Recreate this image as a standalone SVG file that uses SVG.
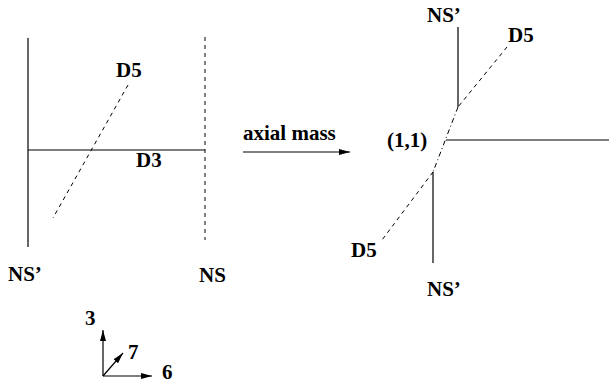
<svg xmlns="http://www.w3.org/2000/svg" width="609" height="383" viewBox="0 0 609 383">
<style>
text{font-family:'Liberation Serif','Times New Roman',serif;font-weight:700;font-size:21px;fill:#000}
.s{stroke:#000;stroke-width:1.2;fill:none}
.d{stroke:#000;stroke-width:1;fill:none;stroke-dasharray:4 4}
.dd{stroke:#000;stroke-width:1;fill:none;stroke-dasharray:5 3 1 3}
</style>
<defs>
<marker id="ah" markerWidth="12" markerHeight="8" refX="11" refY="4" orient="auto" markerUnits="userSpaceOnUse">
<path d="M0,1 L11,4 L0,7 Z" fill="#000"/>
</marker>
</defs>
<g id="connectors">
<line class="s" x1="28" y1="38" x2="28" y2="247"/>
<line class="d" x1="205" y1="37" x2="205" y2="240"/>
<line class="s" x1="28" y1="150" x2="205" y2="150"/>
<line class="d" x1="128" y1="85" x2="53" y2="218"/>
<line class="s" x1="243" y1="152" x2="350" y2="152" marker-end="url(#ah)"/>
<line class="s" x1="458" y1="27" x2="458" y2="107"/>
<line class="d" x1="507" y1="47" x2="458" y2="107"/>
<line class="dd" x1="458" y1="107" x2="433" y2="172"/>
<line class="s" x1="446" y1="140" x2="609" y2="140"/>
<line class="s" x1="433" y1="172" x2="433" y2="263"/>
<line class="d" x1="433" y1="172" x2="382" y2="240"/>
<line class="s" x1="103" y1="376" x2="103" y2="330" marker-end="url(#ah)"/>
<line class="s" x1="103" y1="376" x2="152" y2="376" marker-end="url(#ah)"/>
<line class="s" x1="103" y1="376" x2="123" y2="353" marker-end="url(#ah)"/>
</g>
<g id="left-NSp"><text x="8" y="281">NS’</text></g>
<g id="left-D5"><text x="116" y="77">D5</text></g>
<g id="left-D3"><text x="136" y="167">D3</text></g>
<g id="left-NS"><text x="199" y="282">NS</text></g>
<g id="arrow-label"><text x="243" y="140">axial mass</text></g>
<g id="right-NSp-top"><text x="427" y="22">NS’</text></g>
<g id="right-D5-top"><text x="508" y="42">D5</text></g>
<g id="right-11"><text x="387" y="147">(1,1)</text></g>
<g id="right-D5-bottom"><text x="351" y="257">D5</text></g>
<g id="right-NSp-bottom"><text x="427" y="296">NS’</text></g>
<g id="axis-3"><text x="85" y="325">3</text></g>
<g id="axis-7"><text x="128" y="359">7</text></g>
<g id="axis-6"><text x="162" y="379">6</text></g>
</svg>
